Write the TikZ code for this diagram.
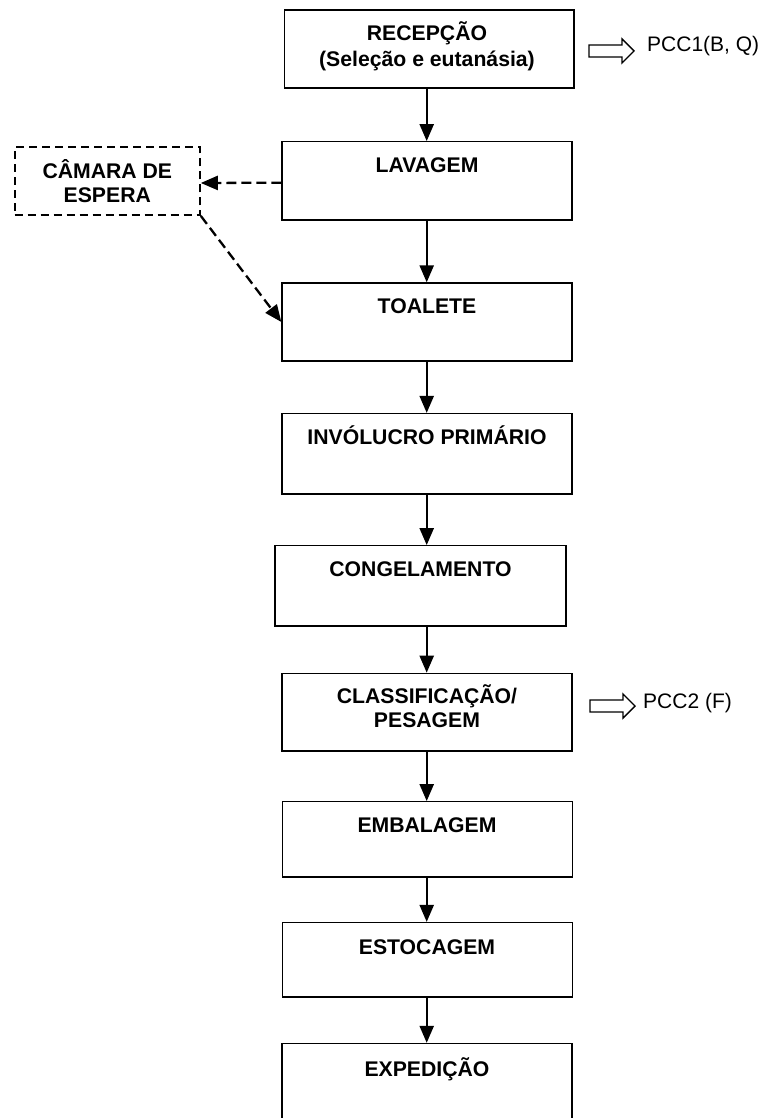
\documentclass[tikz,border=0pt]{standalone}
\usepackage{fontspec}
\setmainfont{Liberation Sans}
\usetikzlibrary{arrows.meta,calc}
\begin{document}
\begin{tikzpicture}[x=1pt,y=-1pt,
  box/.style={draw, line width=1.3pt, inner sep=0pt, minimum width=290pt},
  dbox/.style={draw, line width=1.7pt, dash pattern=on 8pt off 5pt, inner sep=0pt},
  lbl/.style={font=\bfseries\fontsize{21.2}{24}\selectfont, inner sep=0pt, anchor=base},
  pcc/.style={font=\fontsize{21}{24}\selectfont, inner sep=0pt, anchor=base west},
  flow/.style={line width=2.3pt, -{Triangle[length=17pt,width=14pt]}},
  dflow/.style={line width=2.3pt, dash pattern=on 10pt off 5pt, -{Triangle[length=17pt,width=14pt]}},
  hollow/.style={draw, line width=1.4pt, line join=miter}]
\path[use as bounding box] (0,0) rectangle (765,1118);
\clip (0,0) rectangle (765,1118);
\fill[white] (0,0) rectangle (765,1118);

% boxes
\node[box, minimum width=289.5pt, minimum height=78pt] (rec) at (429.25,49) {};
\node[box, minimum height=78.3pt] (lav) at (427,180.9) {};
\node[box, minimum height=78pt] (toa) at (427,322) {};
\node[box, minimum height=80.5pt] (inv) at (427,453.8) {};
\node[box, minimum width=291pt, minimum height=80.3pt] (con) at (420.5,585.9) {};
\node[box, minimum height=77.7pt] (cla) at (427,712.2) {};
\node[box, minimum height=75.3pt] (emb) at (427.5,839.4) {};
\node[box, minimum height=74.5pt] (est) at (427.5,959.8) {};
\node[box, minimum height=90pt] (exp) at (427,1088.5) {};
\node[dbox, minimum width=185.3pt, minimum height=67.7pt] (cam) at (107.3,181.2) {};

% labels
\node[lbl] (rec1) at (427,40.3) {RECEPÇÃO};
\node[lbl] (rec2) at (427,66.7) {(Seleção e eutanásia)};
\node[lbl] (lavt) at (427,172.7) {LAVAGEM};
\node[lbl] (toat) at (427,313.3) {TOALETE};
\node[lbl] (invt) at (427,444) {INVÓLUCRO PRIMÁRIO};
\node[lbl] (cont) at (420.5,576) {CONGELAMENTO};
\node[lbl] (cla1) at (427,703.3) {CLASSIFICAÇÃO/};
\node[lbl] (cla2) at (427,727.3) {PESAGEM};
\node[lbl] (embt) at (427,832.3) {EMBALAGEM};
\node[lbl] (estt) at (427,954) {ESTOCAGEM};
\node[lbl] (expt) at (427,1076.7) {EXPEDIÇÃO};
\node[lbl] (cam1) at (107.3,178.3) {CÂMARA DE};
\node[lbl] (cam2) at (107.3,202.7) {ESPERA};

% PCC notes
\node[pcc] (pcc1) at (647,51.5) {PCC1(B, Q)};
\node[pcc] (pcc2) at (643,708) {PCC2 (F)};
\draw[hollow] (589,45) -- (622,45) -- (622,39) -- (634,51) -- (622,63) -- (622,57) -- (589,57) -- cycle;
\draw[hollow] (590,700) -- (623,700) -- (623,694) -- (635,706) -- (623,718) -- (623,712) -- (590,712) -- cycle;

% flow arrows
\coordinate (ax) at (426.7,0);
\draw[flow] (rec.south -| ax) -- (lav.north -| ax);
\draw[flow] (lav.south -| ax) -- (toa.north -| ax);
\draw[flow] (toa.south -| ax) -- (inv.north -| ax);
\draw[flow] (inv.south -| ax) -- (con.north -| ax);
\draw[flow] (con.south -| ax) -- (cla.north -| ax);
\draw[flow] (cla.south -| ax) -- (emb.north -| ax);
\draw[flow] (emb.south -| ax) -- (est.north -| ax);
\draw[flow] (est.south -| ax) -- (exp.north -| ax);

% dashed arrows
\draw[dflow] ([yshift=-1.8pt]lav.west) -- ([yshift=-1.8pt]cam.east);
\draw[dflow] (cam.south east) -- (toa.west);
\end{tikzpicture}
\end{document}
